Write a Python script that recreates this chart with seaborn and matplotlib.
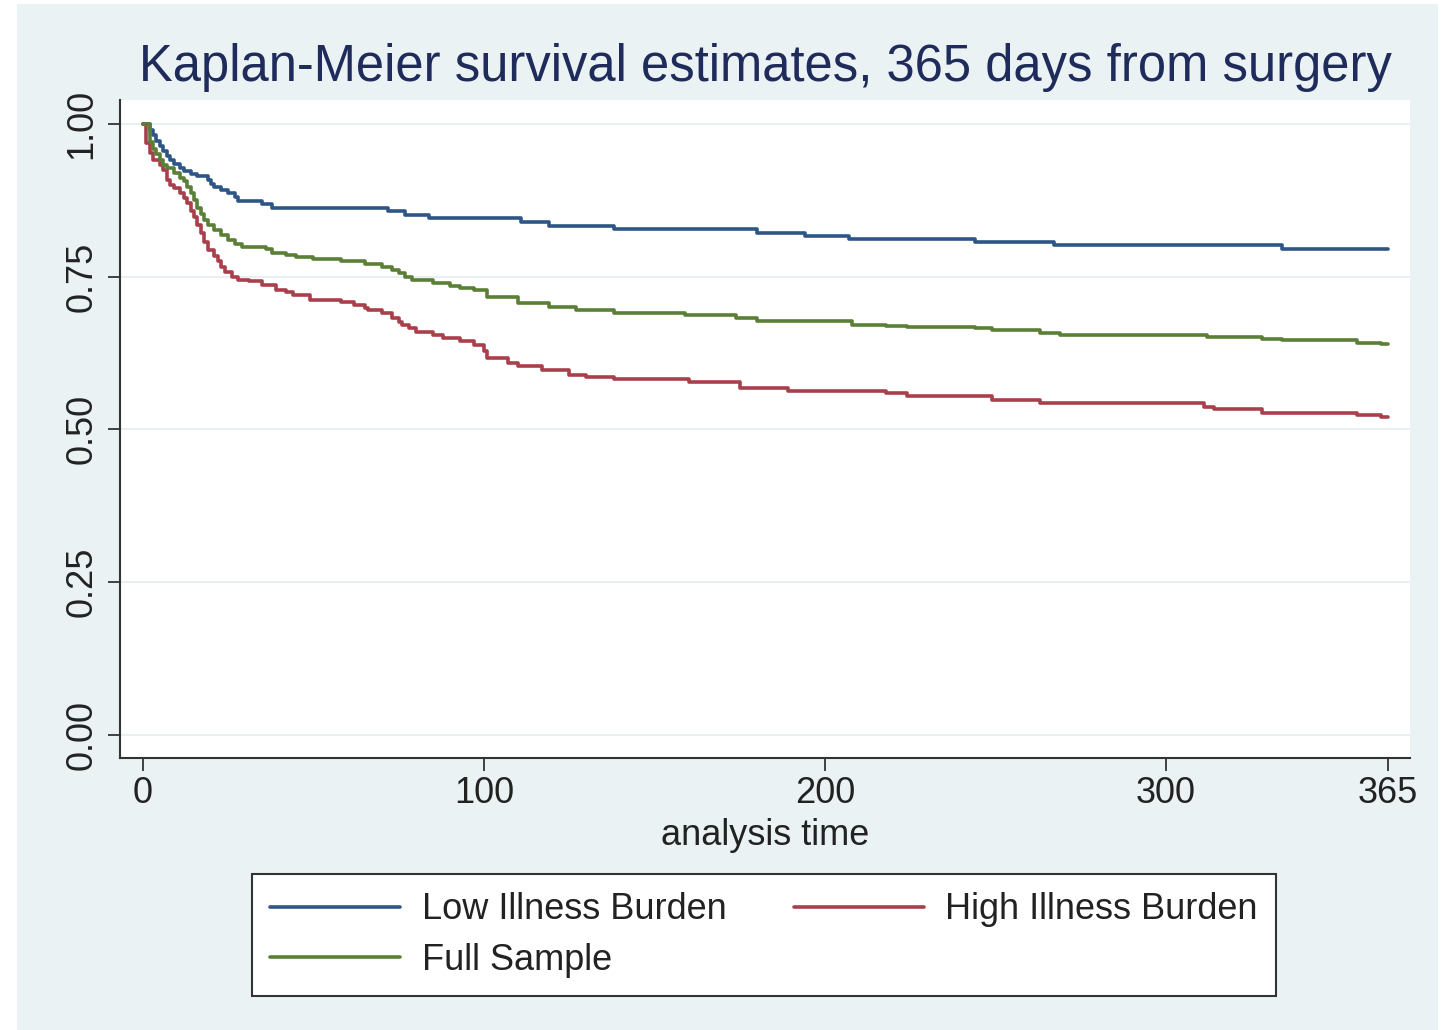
import numpy as np
import pandas as pd
import matplotlib
matplotlib.use("Agg")
import matplotlib.pyplot as plt
from matplotlib.patches import Rectangle
import seaborn as sns

# ---- data ----
low_t = [0, 2, 3, 4, 5, 6, 7, 8, 9, 11, 12, 14, 16, 19, 20, 21, 23, 25, 27, 28,
         35, 38, 72, 77, 84, 111, 119, 138, 180, 194, 207, 244, 267, 334, 365]
low_s = [1.000, 0.990, 0.982, 0.972, 0.963, 0.955, 0.947, 0.940, 0.934, 0.928,
         0.922, 0.918, 0.914, 0.908, 0.902, 0.897, 0.892, 0.887, 0.880, 0.873,
         0.868, 0.862, 0.857, 0.851, 0.846, 0.840, 0.833, 0.828, 0.822, 0.817,
         0.812, 0.806, 0.801, 0.795, 0.795]

high_t = [0, 1, 2, 3, 5, 6, 7, 8, 9, 11, 12, 13, 14, 15, 16, 17, 18, 19, 21, 22,
          23, 24, 26, 28, 31, 35, 39, 42, 44, 49, 58, 62, 65, 66, 70, 73, 75, 76,
          78, 80, 85, 88, 93, 97, 100, 101, 107, 110, 117, 125, 130, 138, 160,
          175, 189, 218, 224, 249, 263, 311, 314, 328, 356, 363, 365]
high_s = [1.000, 0.968, 0.952, 0.941, 0.933, 0.925, 0.908, 0.900, 0.895, 0.887,
          0.878, 0.870, 0.858, 0.848, 0.834, 0.821, 0.807, 0.794, 0.783, 0.775,
          0.765, 0.758, 0.750, 0.745, 0.742, 0.736, 0.728, 0.724, 0.720, 0.712,
          0.709, 0.704, 0.699, 0.696, 0.691, 0.682, 0.676, 0.671, 0.665, 0.660,
          0.655, 0.650, 0.644, 0.638, 0.628, 0.617, 0.608, 0.603, 0.597, 0.589,
          0.586, 0.583, 0.577, 0.567, 0.563, 0.559, 0.555, 0.548, 0.543, 0.537,
          0.533, 0.527, 0.524, 0.520, 0.520]

full_t = [0, 2, 3, 4, 5, 6, 7, 9, 11, 12, 13, 14, 15, 16, 17, 18, 19, 21, 23, 25,
          27, 29, 36, 38, 42, 45, 50, 58, 65, 70, 73, 75, 77, 79, 85, 90, 93, 97,
          101, 110, 119, 127, 138, 159, 174, 180, 208, 218, 224, 244, 249, 263,
          269, 312, 328, 334, 356, 363, 365]
full_s = [1.000, 0.970, 0.958, 0.950, 0.940, 0.933, 0.927, 0.919, 0.912, 0.906,
          0.896, 0.886, 0.876, 0.862, 0.852, 0.842, 0.835, 0.826, 0.818, 0.810,
          0.804, 0.799, 0.795, 0.789, 0.785, 0.782, 0.778, 0.775, 0.770, 0.766,
          0.761, 0.756, 0.750, 0.745, 0.740, 0.735, 0.731, 0.728, 0.717, 0.707,
          0.701, 0.696, 0.690, 0.687, 0.682, 0.678, 0.671, 0.669, 0.667, 0.665,
          0.662, 0.657, 0.655, 0.651, 0.648, 0.646, 0.642, 0.640, 0.640]

series_labels = ["Low Illness Burden", "High Illness Burden", "Full Sample"]
series_colors = ["#2f5586", "#a93f4b", "#5b7f36"]
x_ticks = [0, 100, 200, 300, 365]
y_ticks = [0.00, 0.25, 0.50, 0.75, 1.00]
title_text = "Kaplan-Meier survival estimates, 365 days from surgery"
x_label = "analysis time"

# ---- style ----
sns.set_style("white")
plt.rcParams["font.family"] = ["Liberation Sans", "DejaVu Sans"]

W, H = 1448, 1030
fig = plt.figure(figsize=(W / 100, H / 100), dpi=100)
fig.patch.set_facecolor("white")
fig.add_artist(Rectangle((17 / W, 0), (1438 - 17) / W, 1 - 4 / H,
                         transform=fig.transFigure, facecolor="#eaf2f3",
                         edgecolor="none", zorder=-10))

ax = fig.add_axes([120 / W, 1 - 758 / H, (1410 - 120) / W, (758 - 100) / H])
ax.set_facecolor("white")

for t, s, lab, col in zip([low_t, high_t, full_t], [low_s, high_s, full_s],
                          series_labels, series_colors):
    df = pd.DataFrame({"t": t, "s": s})
    sns.lineplot(data=df, x="t", y="s", ax=ax, color=col, linewidth=2.6,
                 drawstyle="steps-post", estimator=None, sort=False, label=lab)

ax.set_xlim(-6.7, 371.5)
ax.set_ylim(-0.038, 1.039)
ax.set_xticks(x_ticks)
ax.set_xticklabels([str(v) for v in x_ticks])
ax.set_yticks(y_ticks)
ax.set_yticklabels([f"{v:.2f}" for v in y_ticks], rotation=90, va="center")
ax.grid(axis="y", color="#e6eef0", linewidth=1.2)
ax.grid(axis="x", visible=False)
for side in ["top", "right"]:
    ax.spines[side].set_visible(False)
for side in ["left", "bottom"]:
    ax.spines[side].set_color("#333333")
    ax.spines[side].set_linewidth(1.5)
ax.tick_params(axis="both", which="both", direction="out", length=9,
               width=1.3, color="#333333", labelsize=26, labelcolor="#222222",
               left=True, bottom=True)
ax.tick_params(axis="y", pad=6)
ax.tick_params(axis="x", pad=4)
ax.set_xlabel(x_label, fontsize=26, color="#222222", labelpad=5)
ax.set_ylabel("")
ax.set_title(title_text, fontsize=36.5, color="#1f2b5b", pad=14)

h, l = ax.get_legend_handles_labels()
ax.get_legend().remove()
order = [0, 2, 1]
leg = fig.legend([h[i] for i in order], [l[i] for i in order], ncol=2,
                 loc="center", bbox_to_anchor=(764 / W, 1 - 935 / H),
                 fontsize=26, handlelength=3.6, handletextpad=0.6,
                 columnspacing=1.85, labelspacing=0.42, borderpad=0.5,
                 frameon=True, fancybox=False, edgecolor="#333333",
                 facecolor="white", framealpha=1)
leg.get_frame().set_linewidth(1.5)
for text in leg.get_texts():
    text.set_color("#222222")

fig.savefig("out.png", dpi=100, facecolor=fig.get_facecolor())
